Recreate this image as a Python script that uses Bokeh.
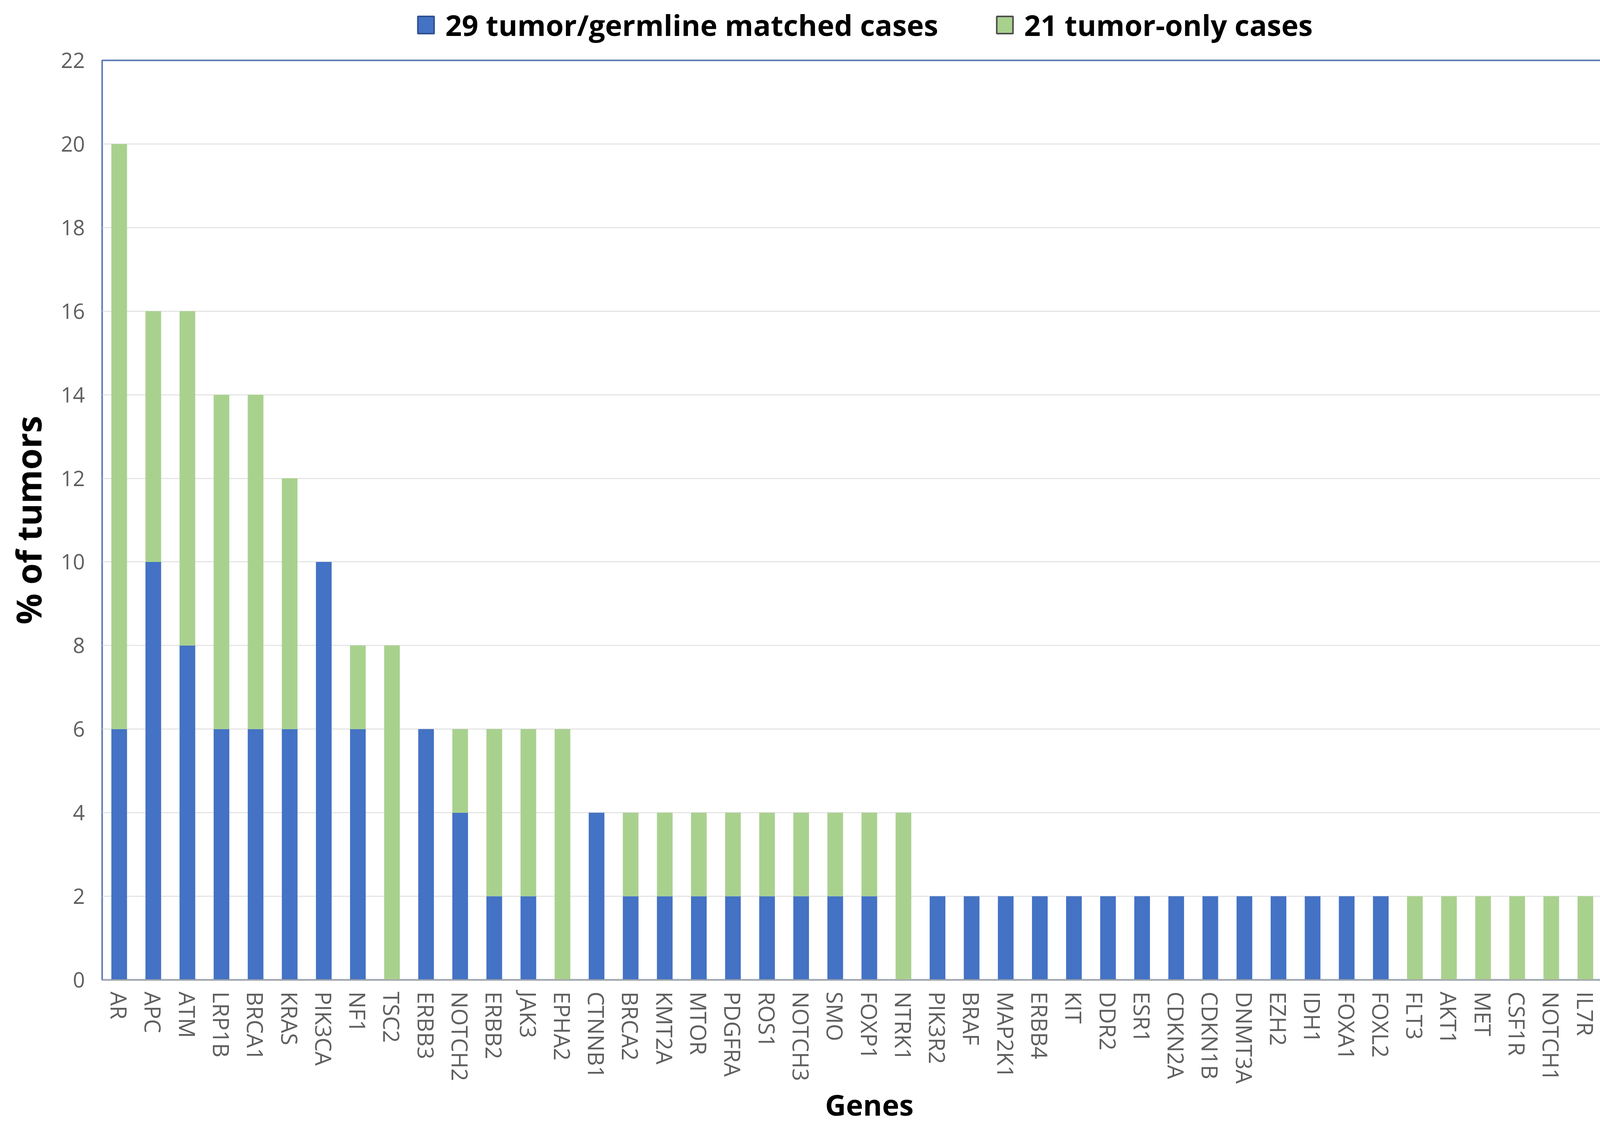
from bokeh.plotting import figure
from bokeh.layouts import column
from bokeh.models import FactorRange, Range1d, FixedTicker, Legend, LegendItem, ColumnDataSource
from bokeh.embed import file_html
from bokeh.resources import INLINE

genes = ["AR", "APC", "ATM", "LRP1B", "BRCA1", "KRAS", "PIK3CA", "NF1", "TSC2", "ERBB3",
         "NOTCH2", "ERBB2", "JAK3", "EPHA2", "CTNNB1", "BRCA2", "KMT2A", "MTOR", "PDGFRA", "ROS1",
         "NOTCH3", "SMO", "FOXP1", "NTRK1", "PIK3R2", "BRAF", "MAP2K1", "ERBB4", "KIT", "DDR2",
         "ESR1", "CDKN2A", "CDKN1B", "DNMT3A", "EZH2", "IDH1", "FOXA1", "FOXL2", "FLT3", "AKT1",
         "MET", "CSF1R", "NOTCH1", "IL7R", "PTCH1"]
matched = [6, 10, 8, 6, 6, 6, 10, 6, 0, 6,
           4, 2, 2, 0, 4, 2, 2, 2, 2, 2,
           2, 2, 2, 0, 2, 2, 2, 2, 2, 2,
           2, 2, 2, 2, 2, 2, 2, 2, 0, 0,
           0, 0, 0, 0, 0]
tumor_only = [14, 6, 8, 8, 8, 6, 0, 2, 8, 0,
              2, 4, 4, 6, 0, 2, 2, 2, 2, 2,
              2, 2, 2, 4, 0, 0, 0, 0, 0, 0,
              0, 0, 0, 0, 0, 0, 0, 0, 2, 2,
              2, 2, 2, 2, 2]
y_ticks = list(range(0, 23, 2))
series_names = ["29 tumor/germline matched cases", "21 tumor-only cases"]

BLUE = "#4472C4"
GREEN = "#A9D18E"
W = 4206
NAN = float("nan")

# ---------- legend strip (separate figure above the chart) ----------
lf = figure(width=W, height=114, x_range=Range1d(0, 1), y_range=Range1d(0, 1),
            output_backend="svg", toolbar_location=None,
            x_axis_location=None, y_axis_location=None, min_border=0)
lf.outline_line_color = None
lf.xgrid.grid_line_color = None
lf.ygrid.grid_line_color = None
proxy = ColumnDataSource(dict(x=[NAN], bottom=[NAN], top=[NAN]))
r1 = lf.vbar(x="x", bottom="bottom", top="top", width=0.1, source=proxy,
             fill_color=BLUE, line_color="#2F528F", line_width=4)
r2 = lf.vbar(x="x", bottom="bottom", top="top", width=0.1, source=proxy,
             fill_color=GREEN, line_color="#4D4D4D", line_width=4)
legend = Legend(items=[LegendItem(label=series_names[0], renderers=[r1]),
                       LegendItem(label=series_names[1], renderers=[r2])],
                orientation="horizontal", location=(803, 0),
                label_text_font="Open Sans", label_text_font_size="74px",
                label_text_font_style="bold", label_text_color="black",
                glyph_width=52, glyph_height=55, label_standoff=24, spacing=144,
                border_line_color=None, background_fill_alpha=0,
                padding=0, margin=0)
lf.add_layout(legend, "center")

# ---------- main chart ----------
src = ColumnDataSource(dict(genes=genes, matched=matched, tumor_only=tumor_only))

p = figure(width=W, height=2766, x_range=FactorRange(*genes), y_range=Range1d(0, 22),
           output_backend="svg", toolbar_location=None,
           min_border_left=261, min_border_right=17, min_border_top=40, min_border_bottom=356)

p.vbar_stack(["matched", "tumor_only"], x="genes", width=0.46, source=src,
             color=[BLUE, GREEN], line_color=None)

p.outline_line_color = "#5B7BB4"
p.outline_line_width = 4
p.background_fill_color = "white"
p.border_fill_color = "white"

p.xgrid.grid_line_color = None
p.ygrid.grid_line_color = "#D9D9D9"
p.ygrid.grid_line_width = 2

p.yaxis.ticker = FixedTicker(ticks=y_ticks)
p.yaxis.axis_line_color = None
p.yaxis.major_tick_line_color = None
p.yaxis.minor_tick_line_color = None
p.yaxis.major_label_text_font = "Open Sans"
p.yaxis.major_label_text_font_size = "54px"
p.yaxis.major_label_text_color = "#5F5F5F"
p.yaxis.major_label_standoff = 38
p.yaxis.axis_label = "% of tumors"
p.yaxis.axis_label_text_font = "Open Sans"
p.yaxis.axis_label_text_font_size = "88px"
p.yaxis.axis_label_text_font_style = "bold"
p.yaxis.axis_label_text_color = "black"
p.yaxis.axis_label_standoff = 21

p.xaxis.axis_line_color = "#A6A6A6"
p.xaxis.axis_line_width = 3
p.xaxis.major_tick_line_color = None
p.xaxis.minor_tick_line_color = None
p.xaxis.major_label_orientation = "vertical"
p.xaxis.major_label_text_font = "Open Sans"
p.xaxis.major_label_text_font_size = "57px"
p.xaxis.major_label_text_color = "#5F5F5F"
p.xaxis.major_label_standoff = 24
p.xaxis.axis_label = "Genes"
p.xaxis.axis_label_text_font = "Open Sans"
p.xaxis.axis_label_text_font_size = "74px"
p.xaxis.axis_label_text_font_style = "bold"
p.xaxis.axis_label_text_color = "black"
p.xaxis.axis_label_standoff = 0

p.x_range.range_padding = 0

layout = column(lf, p, spacing=0)
open("out.html", "w").write(file_html(layout, INLINE))
